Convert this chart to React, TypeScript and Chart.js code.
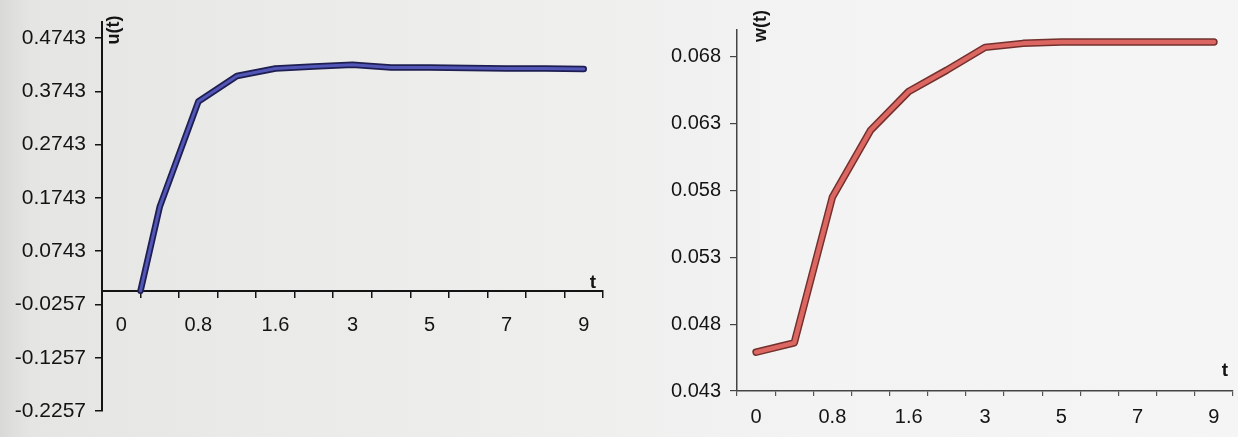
import { useEffect, useRef } from 'react';
import { Chart, registerables } from 'chart.js';

Chart.register(...registerables);

// Time samples shown on the category axis (every other one is labelled)
const tLabels = ['0', '0.4', '0.8', '1.2', '1.6', '2', '3', '4', '5', '6', '7', '8', '9'];

// u(t): position along the t axis (category index units) and value
const uPos = [0.5, 1, 2, 3, 4, 5, 6, 7, 8, 9, 10, 11, 12];
const uVals = [0, 0.158, 0.355, 0.403, 0.417, 0.421, 0.424, 0.419, 0.419, 0.418, 0.417, 0.417, 0.416];
const uTicks = [-0.2257, -0.1257, -0.0257, 0.0743, 0.1743, 0.2743, 0.3743, 0.4743];

// w(t) at each time sample
const wVals = [0.0459, 0.0466, 0.0575, 0.0625, 0.0654, 0.067, 0.0687, 0.069, 0.0691, 0.0691, 0.0691, 0.0691, 0.0691];
const wTicks = [0.043, 0.048, 0.053, 0.058, 0.063, 0.068];

const FONT = '"Liberation Sans", Arial, sans-serif';
const INK = '#141414';

const everyOther = (_v: any, i: number) => (i % 2 === 0 ? tLabels[i] : '');

// Draws the rotated y title and the "t" x title next to the axes
function axisTitles(yTitle: string, yDx: number, yDy: number, tDx: number, tY: (c: any) => number) {
  return {
    id: 'axisTitles',
    afterDraw(chart: any) {
      const { ctx, chartArea } = chart;
      ctx.save();
      ctx.fillStyle = INK;
      ctx.font = `bold 18px ${FONT}`;
      ctx.textAlign = 'center';
      ctx.textBaseline = 'middle';
      ctx.translate(chartArea.left + yDx, chartArea.top + yDy);
      ctx.rotate(-Math.PI / 2);
      ctx.fillText(yTitle, 0, 0);
      ctx.restore();
      ctx.save();
      ctx.fillStyle = INK;
      ctx.font = `bold 19px ${FONT}`;
      ctx.textAlign = 'center';
      ctx.textBaseline = 'middle';
      ctx.fillText('t', chartArea.right + tDx, tY(chart));
      ctx.restore();
    },
  };
}

const lineStyle = { pointRadius: 0, tension: 0, borderJoinStyle: 'round', borderCapStyle: 'round' };

function UChart() {
  const ref = useRef<HTMLCanvasElement>(null);
  useEffect(() => {
    const pts = uPos.map((x, i) => ({ x, y: uVals[i] }));
    const chart = new Chart(ref.current as HTMLCanvasElement, {
      type: 'line',
      data: {
        labels: tLabels,
        datasets: [
          // blue core on top of a dark edge
          { data: pts, xAxisID: 'xl', borderColor: '#5256b6', borderWidth: 3, ...lineStyle },
          { data: pts, xAxisID: 'xl', borderColor: '#1e1e52', borderWidth: 6.5, ...lineStyle },
        ],
      },
      options: {
        animation: false,
        responsive: false,
        layout: { padding: { top: 22, right: 17, bottom: 26, left: 0 } },
        plugins: { legend: { display: false }, tooltip: { enabled: false } },
        scales: {
          x: {
            type: 'category',
            position: { y: 0 } as any,
            offset: true,
            grid: { display: true, drawOnChartArea: false, drawTicks: true, tickLength: 6, offset: true, color: INK, lineWidth: 1.5 },
            border: { display: true, color: INK, width: 2 },
            ticks: { autoSkip: false, maxRotation: 0, padding: 17, color: INK, font: { family: FONT, size: 20 }, callback: everyOther },
          },
          xl: { type: 'linear', display: false, min: -0.5, max: 12.5 },
          y: {
            type: 'linear',
            min: -0.2257,
            max: 0.5043,
            afterBuildTicks: (s: any) => { s.ticks = uTicks.map((v) => ({ value: v })); },
            afterFit: (s: any) => { s.width = 102; },
            grid: { drawOnChartArea: false, tickLength: 7, color: INK, lineWidth: 1.5 },
            border: { color: INK, width: 2 },
            ticks: { padding: 9, color: INK, font: { family: FONT, size: 21 }, callback: (v: any) => Number(v).toFixed(4) },
          },
        },
      },
      plugins: [axisTitles('u(t)', 12, 8, -10, (c: any) => c.scales.y.getPixelForValue(0) - 8)],
    } as any);
    return () => chart.destroy();
  }, []);
  return <canvas ref={ref} width={620} height={437} style={{ position: 'absolute', left: 0, top: 0 }} />;
}

function WChart() {
  const ref = useRef<HTMLCanvasElement>(null);
  useEffect(() => {
    const chart = new Chart(ref.current as HTMLCanvasElement, {
      type: 'line',
      data: {
        labels: tLabels,
        datasets: [
          // red core on top of a dark edge
          { data: wVals, borderColor: '#dc6661', borderWidth: 4.5, ...lineStyle },
          { data: wVals, borderColor: '#73302c', borderWidth: 7.5, ...lineStyle },
        ],
      },
      options: {
        animation: false,
        responsive: false,
        layout: { padding: { top: 30, right: 5, bottom: 0, left: 0 } },
        plugins: { legend: { display: false }, tooltip: { enabled: false } },
        scales: {
          x: {
            type: 'category',
            position: 'bottom',
            offset: true,
            afterFit: (s: any) => { s.height = 46; },
            grid: { display: true, drawOnChartArea: false, drawTicks: true, tickLength: 5, offset: true, color: '#555', lineWidth: 1.2 },
            border: { display: true, color: '#444', width: 1.5 },
            ticks: { autoSkip: false, maxRotation: 0, padding: 9, color: INK, font: { family: FONT, size: 20 }, callback: everyOther },
          },
          y: {
            type: 'linear',
            min: 0.043,
            max: 0.07,
            afterBuildTicks: (s: any) => { s.ticks = wTicks.map((v) => ({ value: v })); },
            afterFit: (s: any) => { s.width = 117; },
            grid: { drawOnChartArea: false, tickLength: 7, color: '#444', lineWidth: 1.2 },
            border: { color: '#444', width: 1.5 },
            ticks: { padding: 9, color: INK, font: { family: FONT, size: 20 }, callback: (v: any) => Number(v).toFixed(3) },
          },
        },
      },
      plugins: [axisTitles('w(t)', 24, -4, -8, (c: any) => c.chartArea.bottom - 20)],
    } as any);
    return () => chart.destroy();
  }, []);
  return <canvas ref={ref} width={618} height={437} style={{ position: 'absolute', left: 620, top: 0 }} />;
}

export default function App() {
  return (
    <div
      style={{
        position: 'fixed',
        left: 0,
        top: 0,
        width: 1238,
        height: 437,
        overflow: 'hidden',
        background: 'linear-gradient(90deg, #d9d9d7 0px, #e5e5e3 30px, #eaeae9 250px, #efefee 600px, #f3f3f3 800px, #f5f5f5 1238px)',
      }}
    >
      <UChart />
      <WChart />
    </div>
  );
}
